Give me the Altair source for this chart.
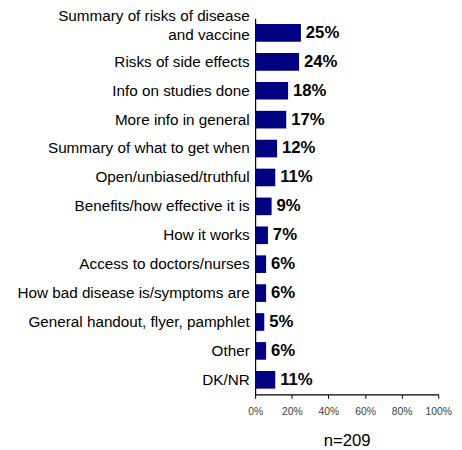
import altair as alt
import pandas as pd

categories = [
    "Summary of risks of disease and vaccine",
    "Risks of side effects",
    "Info on studies done",
    "More info in general",
    "Summary of what to get when",
    "Open/unbiased/truthful",
    "Benefits/how effective it is",
    "How it works",
    "Access to doctors/nurses",
    "How bad disease is/symptoms are",
    "General handout, flyer, pamphlet",
    "Other",
    "DK/NR",
]
values = [25, 24, 18, 17, 12, 11, 9, 7, 6, 6, 5, 6, 11]
x_ticks = [0, 20, 40, 60, 80, 100]
sample_note = "n=209"

df = pd.DataFrame({"cat": categories, "val": values})
df["lbl"] = df["val"].astype(str) + "%"

y_enc = alt.Y(
    "cat:N",
    sort=categories,
    scale=alt.Scale(paddingInner=0.39, paddingOuter=0.2),
    axis=alt.Axis(
        title=None,
        domainColor="black",
        domainWidth=1.2,
        ticks=False,
        labelFont="Liberation Sans",
        labelFontSize=15.5,
        labelColor="black",
        labelPadding=6,
        labelLimit=300,
        labelLineHeight=19,
        labelExpr="datum.value == 'Summary of risks of disease and vaccine' ? ['Summary of risks of disease', 'and vaccine'] : datum.value",
        labelOffset={"condition": {"test": "datum.value == 'Summary of risks of disease and vaccine'", "value": -17}, "value": 0},
    ),
)

x_enc = alt.X(
    "val:Q",
    scale=alt.Scale(domain=[0, 100], nice=False),
    axis=alt.Axis(
        values=x_ticks,
        labelExpr="datum.value + '%'",
        labelOverlap=False,
        labelFlush=False,
        labelBound=False,
        title=sample_note,
        titleFont="Liberation Sans",
        titleFontSize=17,
        titleFontWeight="normal",
        titleColor="black",
        titlePadding=16,
        grid=False,
        domainColor="black",
        domainWidth=1.2,
        tickColor="black",
        tickSize=4,
        labelFont="Liberation Sans",
        labelFontSize=10.5,
        labelColor="#404040",
        labelPadding=8,
    ),
)

base = alt.Chart(df).encode(x=x_enc, y=y_enc)
bars = base.mark_bar(color="#000080")
text = base.mark_text(
    align="left", baseline="middle", dx=5, fontWeight="bold",
    fontSize=17, font="Liberation Sans", color="black"
).encode(text="lbl:N")

chart = (bars + text).properties(
    width=186,
    height=382,
    autosize=alt.AutoSizeParams(type="none"),
    padding={"left": 251, "top": 7, "right": 16, "bottom": 55},
).configure_view(stroke=None)

chart.save("out.html", embed_options={"renderer": "svg", "actions": False})
